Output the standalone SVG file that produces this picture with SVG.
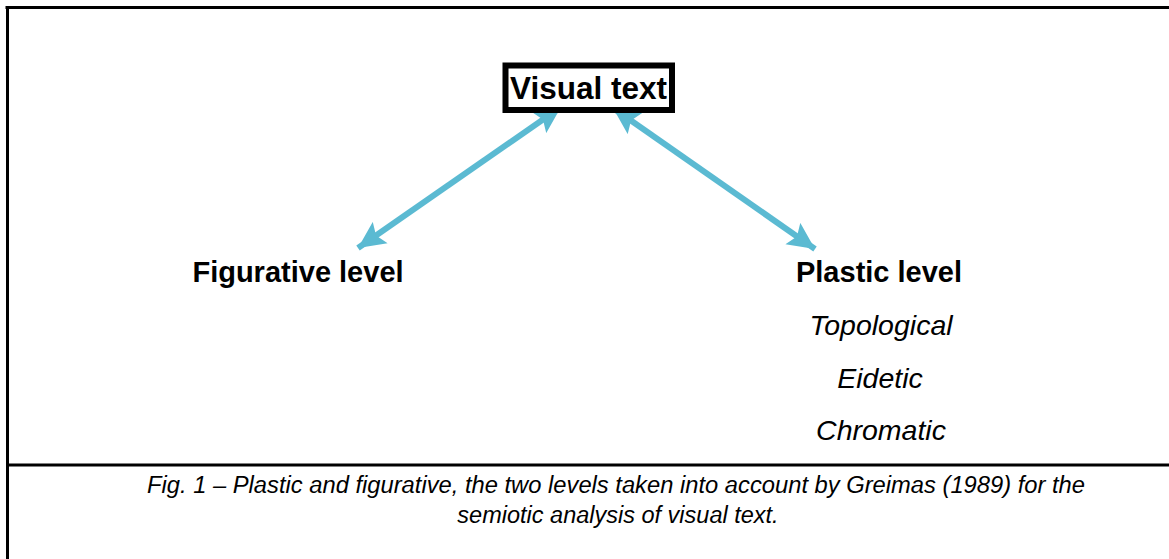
<svg xmlns="http://www.w3.org/2000/svg" width="1169" height="559" viewBox="0 0 1169 559">
<style>
.frame{stroke:#000;stroke-width:3;fill:none}
.bold{font-family:"Liberation Sans",Arial,sans-serif;font-weight:bold;fill:#000}
.ital{font-family:"Liberation Sans",Arial,sans-serif;font-style:italic;fill:#000}
.conn{stroke:#5BBAD2;stroke-width:6;fill:none}
</style>
<defs>
<marker id="ah" markerUnits="userSpaceOnUse" markerWidth="30" markerHeight="28" refX="27" refY="13" orient="auto-start-reverse" viewBox="0 0 30 26">
<path d="M0,0 L27,13 L0,26 L5,13 Z" fill="#5BBAD2"/>
</marker>
</defs>
<rect width="1169" height="559" fill="#fff"/>
<g id="frame">
<path class="frame" d="M5.5,7.5 H1169 M7.5,7.5 V559 M7.5,465 H1169"/>
</g>
<g id="connectors">
<line class="conn" x1="561" y1="107" x2="358" y2="248" marker-start="url(#ah)" marker-end="url(#ah)"/>
<line class="conn" x1="613" y1="108" x2="815" y2="249" marker-start="url(#ah)" marker-end="url(#ah)"/>
</g>
<g id="visual-text">
<rect x="505.5" y="65.5" width="166.5" height="44.5" fill="#fff" stroke="#000" stroke-width="6"/>
<text class="bold" x="588.5" y="99" font-size="31.5" text-anchor="middle">Visual text</text>
</g>
<g id="figurative-level">
<text class="bold" x="298" y="282" font-size="29" text-anchor="middle">Figurative level</text>
</g>
<g id="plastic-level">
<text class="bold" x="879" y="282" font-size="29" text-anchor="middle">Plastic level</text>
<text class="ital" x="881" y="335" font-size="28.5" text-anchor="middle">Topological</text>
<text class="ital" x="880" y="388" font-size="28.5" text-anchor="middle">Eidetic</text>
<text class="ital" x="881" y="440" font-size="28.5" text-anchor="middle">Chromatic</text>
</g>
<g id="caption">
<text class="ital" x="616" y="493" font-size="23.5" text-anchor="middle" textLength="938" lengthAdjust="spacingAndGlyphs">Fig. 1 – Plastic and figurative, the two levels taken into account by Greimas (1989) for the</text>
<text class="ital" x="618" y="523" font-size="23.5" text-anchor="middle">semiotic analysis of visual text.</text>
</g>
</svg>
